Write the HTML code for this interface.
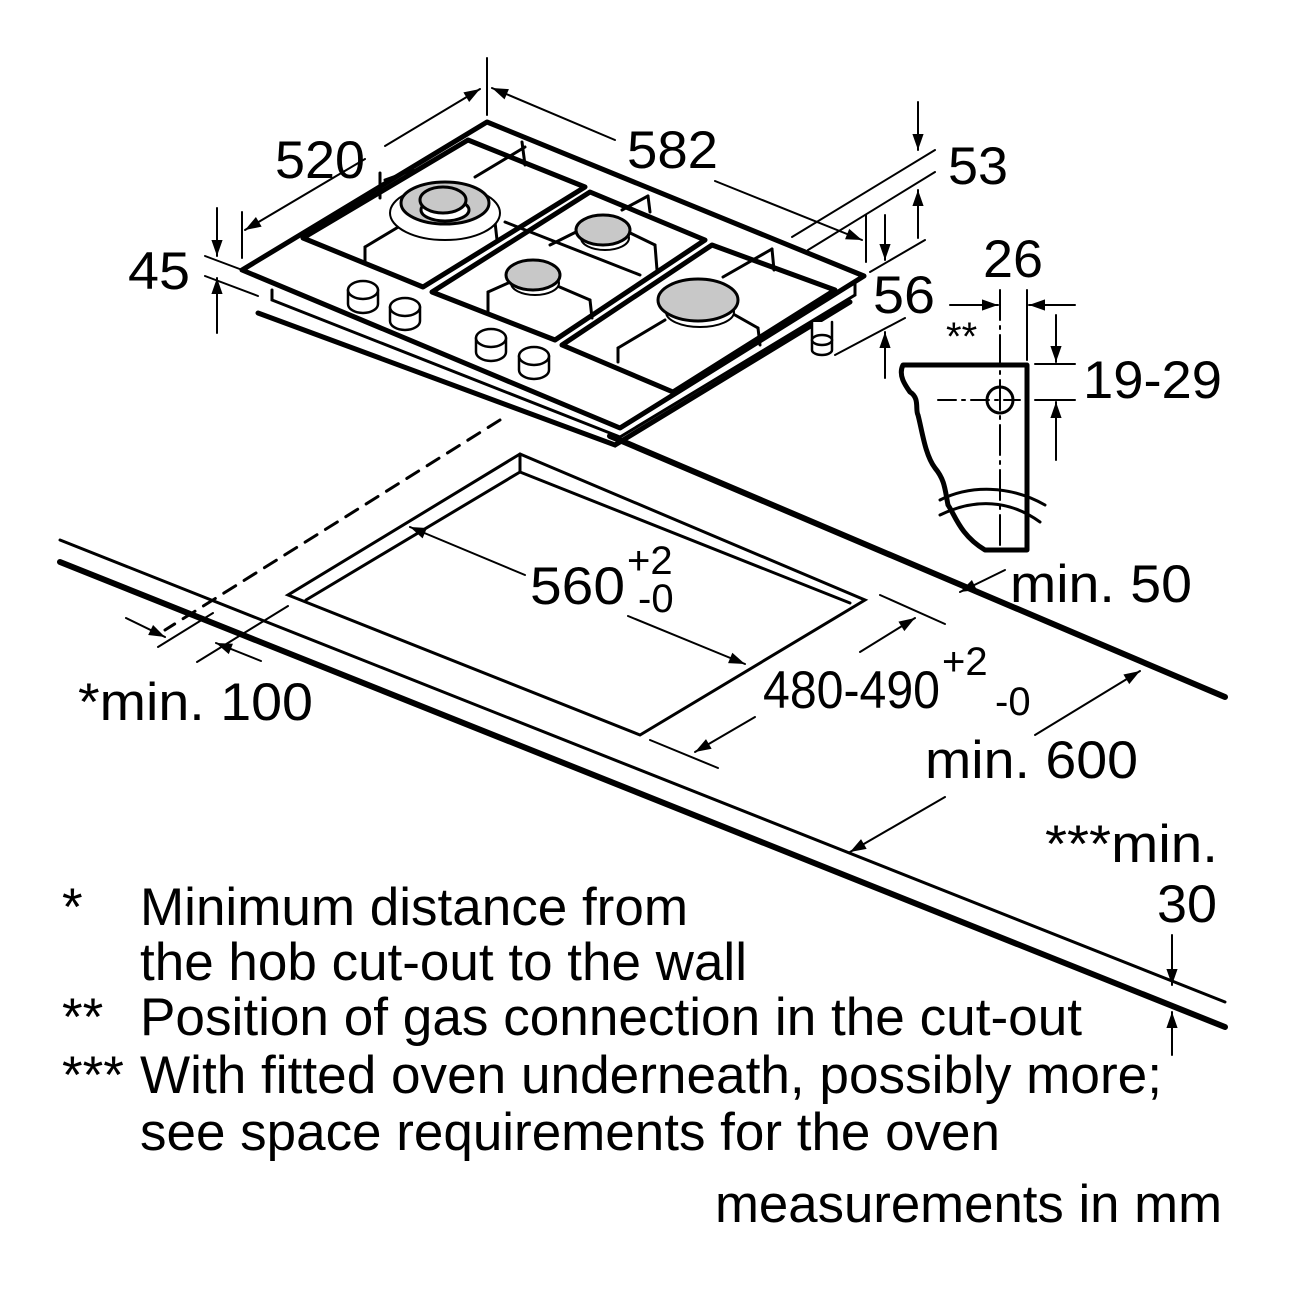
<!DOCTYPE html>
<html><head><style>
html,body{margin:0;padding:0;background:#fff;}
svg{display:block;}
text{font-family:"Liberation Sans",Arial,sans-serif;fill:#000;}
</style></head><body>
<svg width="1300" height="1300" viewBox="0 0 1300 1300" xmlns="http://www.w3.org/2000/svg">
<defs>
<marker id="b" viewBox="0 0 10 10" refX="10" refY="5" markerWidth="22" markerHeight="16" orient="auto-start-reverse" markerUnits="userSpaceOnUse"><path d="M0,1.5 L10,5 L0,8.5 z" fill="#000"/></marker>
</defs>
<g stroke="#000" fill="none" stroke-width="3" stroke-linecap="round">
<!-- countertop -->
<line x1="60" y1="540" x2="1225" y2="1002" stroke-width="3"/>
<line x1="60" y1="562" x2="1225" y2="1027" stroke-width="6"/>
<line x1="610" y1="436" x2="1225" y2="697" stroke-width="6"/>
<line x1="500" y1="420" x2="165" y2="630" stroke-dasharray="14,10"/>
<!-- cutout -->
<path d="M520,454 L865,600 L640,735 L288,595 Z"/>
<path d="M306,600 L520,472 L850,603"/>
<line x1="520" y1="454" x2="520" y2="472"/>
<line x1="288" y1="606" x2="197" y2="662" stroke-width="2"/>
<line x1="213" y1="613" x2="158" y2="647" stroke-width="2"/>
<line x1="126" y1="618" x2="165" y2="637" stroke-width="2" marker-end="url(#b)"/>
<line x1="261" y1="661" x2="216" y2="643" stroke-width="2" marker-end="url(#b)"/>
<!-- 560 -->
<line x1="525" y1="575" x2="410" y2="527" stroke-width="2" marker-end="url(#b)"/>
<line x1="628" y1="616" x2="745" y2="664" stroke-width="2" marker-end="url(#b)"/>
<!-- 480-490 -->
<line x1="880" y1="595" x2="945" y2="624" stroke-width="2"/>
<line x1="650" y1="740" x2="718" y2="768" stroke-width="2"/>
<line x1="755" y1="717" x2="695" y2="752" stroke-width="2" marker-end="url(#b)"/>
<line x1="860" y1="652" x2="915" y2="618" stroke-width="2" marker-end="url(#b)"/>
<!-- min 600 -->
<line x1="945" y1="797" x2="850" y2="852" stroke-width="2" marker-end="url(#b)"/>
<line x1="1035" y1="735" x2="1140" y2="671" stroke-width="2" marker-end="url(#b)"/>
<!-- min 50 -->
<line x1="1005" y1="570" x2="960" y2="592" stroke-width="2" marker-end="url(#b)"/>
<!-- 30 -->
<line x1="1172" y1="935" x2="1172" y2="985" stroke-width="2" marker-end="url(#b)"/>
<line x1="1172" y1="1055" x2="1172" y2="1012" stroke-width="2" marker-end="url(#b)"/>

<!-- hob -->
<path d="M258,313 L615,445 L850,302" stroke-width="5"/>
<path d="M272,290 L272,300 L620,437 L855,295 L855,283" stroke-width="3"/>
<path d="M487,122 L864,276 L620,428 L242,270 Z" stroke-width="5" stroke-linejoin="round" fill="#fff"/>
<!-- grates -->
<path d="M303,238 L468,140 L585,187 L423,287 Z" stroke-width="5" stroke-linejoin="round"/>
<path d="M432,292 L590,192 L705,240 L555,340 Z" stroke-width="5" stroke-linejoin="round"/>
<path d="M562,345 L712,245 L835,290 L673,392 Z" stroke-width="5" stroke-linejoin="round"/>
<line x1="505" y1="222" x2="640" y2="275" stroke-width="3"/>
<g stroke-width="3">
<line x1="475" y1="177" x2="525" y2="147"/><line x1="522" y1="142" x2="525" y2="165"/>
<line x1="385" y1="180" x2="413" y2="170"/><line x1="380" y1="173" x2="380" y2="198"/>
<line x1="365" y1="247" x2="410" y2="220"/><line x1="365" y1="247" x2="365" y2="262"/>
<line x1="475" y1="210" x2="495" y2="222"/><line x1="495" y1="222" x2="497" y2="240"/>
<line x1="622" y1="210" x2="648" y2="196"/><line x1="648" y1="196" x2="650" y2="212"/>
<line x1="550" y1="245" x2="590" y2="225"/><line x1="620" y1="228" x2="655" y2="245"/><line x1="655" y1="245" x2="657" y2="270"/>
<line x1="488" y1="292" x2="515" y2="280"/><line x1="488" y1="292" x2="488" y2="312"/>
<line x1="555" y1="285" x2="590" y2="300"/><line x1="590" y1="300" x2="592" y2="318"/>
<line x1="723" y1="277" x2="772" y2="249"/><line x1="772" y1="249" x2="774" y2="270"/>
<line x1="618" y1="348" x2="665" y2="320"/><line x1="618" y1="348" x2="618" y2="362"/>
<line x1="735" y1="315" x2="758" y2="328"/><line x1="758" y1="328" x2="760" y2="345"/>
</g>
<!-- burners -->
<ellipse cx="445" cy="213" rx="55" ry="27" stroke-width="2" fill="#fff"/>
<ellipse cx="445" cy="203" rx="44" ry="21" fill="#c8c8c8" stroke-width="3"/>
<ellipse cx="445" cy="210" rx="24" ry="11" stroke-width="3" fill="#fff"/>
<ellipse cx="443" cy="200" rx="23" ry="13" fill="#c8c8c8" stroke-width="3"/>
<ellipse cx="605" cy="238" rx="24" ry="12" stroke-width="2" fill="#fff"/>
<ellipse cx="603" cy="230" rx="27" ry="15" fill="#c8c8c8" stroke-width="3"/>
<ellipse cx="535" cy="283" rx="24" ry="12" stroke-width="2" fill="#fff"/>
<ellipse cx="533" cy="275" rx="27" ry="15" fill="#c8c8c8" stroke-width="3"/>
<ellipse cx="700" cy="312" rx="34" ry="15" stroke-width="2" fill="#fff"/>
<ellipse cx="698" cy="300" rx="40" ry="21" fill="#c8c8c8" stroke-width="3"/>
<!-- knobs -->
<g stroke-width="2.5" fill="#fff">
<path d="M348,290 v14 a15,9 0 0 0 30,0 v-14"/><ellipse cx="363" cy="290" rx="15" ry="9"/>
<path d="M390,307 v14 a15,9 0 0 0 30,0 v-14"/><ellipse cx="405" cy="307" rx="15" ry="9"/>
<path d="M476,338 v14 a15,9 0 0 0 30,0 v-14"/><ellipse cx="491" cy="338" rx="15" ry="9"/>
<path d="M519,356 v14 a15,9 0 0 0 30,0 v-14"/><ellipse cx="534" cy="356" rx="15" ry="9"/>
<path d="M812,322 v28 a10,5 0 0 0 20,0 v-28"/><ellipse cx="822" cy="340" rx="10" ry="5"/>
</g>
<!-- 520 / 582 -->
<line x1="487" y1="58" x2="487" y2="115" stroke-width="2"/>
<line x1="242" y1="212" x2="242" y2="258" stroke-width="2"/>
<line x1="365" y1="159" x2="245" y2="230" stroke-width="2" marker-end="url(#b)"/>
<line x1="385" y1="146" x2="480" y2="89" stroke-width="2" marker-end="url(#b)"/>
<line x1="615" y1="140" x2="492" y2="88" stroke-width="2" marker-end="url(#b)"/>
<line x1="715" y1="181" x2="862" y2="240" stroke-width="2" marker-end="url(#b)"/>
<line x1="866" y1="215" x2="866" y2="262" stroke-width="2"/>
<!-- 53 -->
<line x1="792" y1="237" x2="935" y2="150" stroke-width="2"/>
<line x1="808" y1="250" x2="935" y2="172" stroke-width="2"/>
<line x1="918" y1="102" x2="918" y2="150" stroke-width="2" marker-end="url(#b)"/>
<line x1="918" y1="238" x2="918" y2="190" stroke-width="2" marker-end="url(#b)"/>
<!-- 45 -->
<line x1="205" y1="256" x2="245" y2="271" stroke-width="2"/>
<line x1="205" y1="276" x2="258" y2="296" stroke-width="2"/>
<line x1="217" y1="208" x2="217" y2="256" stroke-width="2" marker-end="url(#b)"/>
<line x1="217" y1="333" x2="217" y2="278" stroke-width="2" marker-end="url(#b)"/>
<!-- 56 -->
<line x1="870" y1="272" x2="925" y2="240" stroke-width="2"/>
<line x1="835" y1="355" x2="905" y2="318" stroke-width="2"/>
<line x1="885" y1="215" x2="885" y2="260" stroke-width="2" marker-end="url(#b)"/>
<line x1="885" y1="378" x2="885" y2="332" stroke-width="2" marker-end="url(#b)"/>
<!-- profile -->
<path d="M1027,365 L903,365 C898,375 905,385 910,392 C920,398 915,410 918,415 C922,430 925,455 935,468 C945,480 945,490 948,505 C955,515 960,535 985,550 L1027,550 Z" stroke-width="5" stroke-linejoin="round"/>
<path d="M940,500 C970,485 1010,485 1045,505" stroke-width="3"/>
<path d="M940,515 C975,498 1010,500 1040,522" stroke-width="3"/>
<line x1="1000" y1="290" x2="1000" y2="550" stroke-width="2" stroke-dasharray="30,6,3,6"/>
<line x1="1027" y1="290" x2="1027" y2="360" stroke-width="2"/>
<line x1="938" y1="400" x2="1020" y2="400" stroke-width="2" stroke-dasharray="18,6,3,6"/>
<circle cx="1000" cy="400" r="13" stroke-width="3"/>
<line x1="950" y1="305" x2="998" y2="305" stroke-width="2" marker-end="url(#b)"/>
<line x1="1075" y1="305" x2="1029" y2="305" stroke-width="2" marker-end="url(#b)"/>
<line x1="1035" y1="364" x2="1075" y2="364" stroke-width="2"/>
<line x1="1035" y1="400" x2="1075" y2="400" stroke-width="2"/>
<line x1="1056" y1="315" x2="1056" y2="362" stroke-width="2" marker-end="url(#b)"/>
<line x1="1056" y1="460" x2="1056" y2="402" stroke-width="2" marker-end="url(#b)"/>
</g>
<g font-size="53">
<text x="275" y="178" textLength="90" lengthAdjust="spacingAndGlyphs">520</text>
<text x="627" y="168" textLength="91" lengthAdjust="spacingAndGlyphs">582</text>
<text x="948" y="184" textLength="60" lengthAdjust="spacingAndGlyphs">53</text>
<text x="128" y="289" textLength="62" lengthAdjust="spacingAndGlyphs">45</text>
<text x="983" y="277" textLength="60" lengthAdjust="spacingAndGlyphs">26</text>
<text x="873" y="313" textLength="62" lengthAdjust="spacingAndGlyphs">56</text>
<text x="946" y="350" font-size="40">**</text>
<text x="1083" y="398" textLength="139" lengthAdjust="spacingAndGlyphs">19-29</text>
<text x="1010" y="602" textLength="182" lengthAdjust="spacingAndGlyphs">min. 50</text>
<text x="530" y="604" textLength="95" lengthAdjust="spacingAndGlyphs">560</text>
<text x="627" y="574" font-size="40">+2</text>
<text x="638" y="612" font-size="40">-0</text>
<text x="78" y="720" textLength="235" lengthAdjust="spacingAndGlyphs">*min. 100</text>
<text x="763" y="708" textLength="177" lengthAdjust="spacingAndGlyphs">480-490</text>
<text x="942" y="675" font-size="40">+2</text>
<text x="995" y="715" font-size="40">-0</text>
<text x="925" y="778" textLength="213" lengthAdjust="spacingAndGlyphs">min. 600</text>
<text x="1045" y="862" textLength="173" lengthAdjust="spacingAndGlyphs">***min.</text>
<text x="1157" y="922" textLength="60" lengthAdjust="spacingAndGlyphs">30</text>
<text x="62" y="925">*</text>
<text x="140" y="925" textLength="548" lengthAdjust="spacingAndGlyphs">Minimum distance from</text>
<text x="140" y="980" textLength="607" lengthAdjust="spacingAndGlyphs">the hob cut-out to the wall</text>
<text x="62" y="1035">**</text>
<text x="140" y="1035" textLength="942" lengthAdjust="spacingAndGlyphs">Position of gas connection in the cut-out</text>
<text x="62" y="1093">***</text>
<text x="140" y="1093" textLength="1022" lengthAdjust="spacingAndGlyphs">With fitted oven underneath, possibly more;</text>
<text x="140" y="1150" textLength="860" lengthAdjust="spacingAndGlyphs">see space requirements for the oven</text>
<text x="715" y="1222" textLength="507" lengthAdjust="spacingAndGlyphs">measurements in mm</text>
</g>
</svg>
</body></html>
